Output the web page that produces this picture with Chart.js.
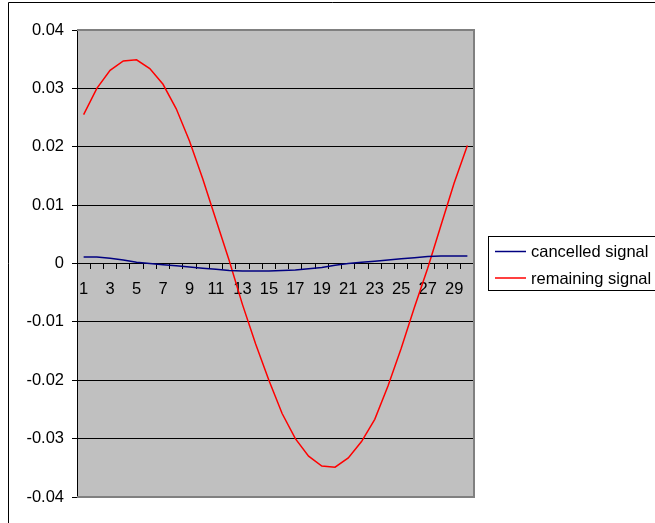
<!DOCTYPE html>
<html>
<head>
<meta charset="utf-8">
<style>
  html, body { margin: 0; padding: 0; background: #fff; }
  #wrap { width: 655px; height: 523px; position: relative; }
</style>
<script src="https://cdn.jsdelivr.net/npm/chart.js@4.4.1/dist/chart.umd.min.js"></script>
</head>
<body>
<div id="wrap"><canvas id="c" width="655" height="523"></canvas></div>
<script>
// Sample index 1..30
const categories = Array.from({ length: 30 }, (_, i) => String(i + 1));

const cancelledSignal = [
  0.0011, 0.0011, 0.0009, 0.0006, 0.0002, 0.0000, -0.0002, -0.0004, -0.0006, -0.0008,
  -0.0010, -0.0012, -0.0013, -0.0013, -0.0013, -0.0012, -0.0011, -0.0009, -0.0007, -0.0003,
  0.0000, 0.0002, 0.0004, 0.0006, 0.0008, 0.0010, 0.0012, 0.0013, 0.0013, 0.0013
];

const remainingSignal = [
  0.0255, 0.0300, 0.0331, 0.0347, 0.0349, 0.0334, 0.0307, 0.0265, 0.0210, 0.0145,
  0.0075, 0.0005, -0.0070, -0.0138, -0.0200, -0.0257, -0.0300, -0.0330, -0.0347, -0.0349,
  -0.0333, -0.0305, -0.0267, -0.0210, -0.0145, -0.0075, -0.0008, 0.0065, 0.0138, 0.0202
];

const yTicks = [0.04, 0.03, 0.02, 0.01, 0, -0.01, -0.02, -0.03, -0.04];

const FONT = "'Liberation Sans', Arial, sans-serif";
const FONT_SIZE = 16.5;
Chart.defaults.font.family = FONT;
Chart.defaults.font.size = FONT_SIZE;
Chart.defaults.color = '#000';

// Grey plot background and white page
const plotBackground = {
  id: 'plotBackground',
  beforeDraw(chart) {
    const { ctx, chartArea: a } = chart;
    ctx.save();
    ctx.fillStyle = '#fff';
    ctx.fillRect(0, 0, chart.width, chart.height);
    ctx.fillStyle = '#C0C0C0';
    ctx.fillRect(a.left, a.top, a.right - a.left, a.bottom - a.top);
    ctx.restore();
  },
  beforeDatasetsDraw(chart) {
    const { ctx, chartArea: a } = chart;
    ctx.save();
    ctx.strokeStyle = '#808080';
    ctx.lineWidth = 2;
    ctx.beginPath();
    ctx.moveTo(a.left, a.top);
    ctx.lineTo(a.right, a.top);
    ctx.lineTo(a.right, a.bottom);
    ctx.lineTo(a.left, a.bottom);
    ctx.stroke();
    ctx.restore();
  }
};

// Boxed legend on the right plus the outer frame
const boxedLegend = {
  id: 'boxedLegend',
  afterDraw(chart) {
    const { ctx } = chart;
    ctx.save();
    // outer frame
    ctx.strokeStyle = '#000';
    ctx.lineWidth = 1;
    ctx.beginPath();
    ctx.moveTo(8.5, chart.height + 5);
    ctx.lineTo(8.5, 2.5);
    ctx.lineTo(chart.width + 5, 2.5);
    ctx.stroke();

    const x = 488.5, y = 236.5, w = 170, h = 54;
    ctx.fillStyle = '#fff';
    ctx.fillRect(x, y, w, h);
    ctx.strokeStyle = '#000';
    ctx.strokeRect(x, y, w, h);

    ctx.font = FONT_SIZE + 'px ' + FONT;
    ctx.textBaseline = 'middle';
    ctx.textAlign = 'left';
    const rows = [251.5, 278];
    chart.data.datasets.forEach((ds, i) => {
      ctx.strokeStyle = ds.borderColor;
      ctx.lineWidth = 1.5;
      ctx.beginPath();
      ctx.moveTo(495, rows[i]);
      ctx.lineTo(526, rows[i]);
      ctx.stroke();
      ctx.fillStyle = '#000';
      ctx.fillText(ds.label, 531, rows[i] + 1);
    });
    ctx.restore();
  }
};

new Chart(document.getElementById('c'), {
  type: 'line',
  data: {
    labels: categories,
    datasets: [
      {
        label: 'cancelled signal',
        data: cancelledSignal,
        borderColor: '#000080',
        borderWidth: 1.5,
        pointRadius: 0,
        tension: 0,
        fill: false
      },
      {
        label: 'remaining signal',
        data: remainingSignal,
        borderColor: '#FF0000',
        borderWidth: 1.5,
        pointRadius: 0,
        tension: 0,
        fill: false
      }
    ]
  },
  options: {
    responsive: false,
    animation: false,
    layout: { padding: { left: 0, top: 30, right: 181, bottom: 26 } },
    plugins: {
      legend: { display: false },
      tooltip: { enabled: false }
    },
    scales: {
      x: {
        type: 'category',
        position: { y: 0 },
        offset: true,
        grid: {
          offset: true,
          drawOnChartArea: false,
          drawTicks: true,
          tickLength: 5,
          color: '#000',
          tickColor: '#000'
        },
        border: { display: true, color: '#000', width: 1 },
        ticks: {
          autoSkip: false,
          maxRotation: 0,
          minRotation: 0,
          padding: 11,
          color: '#000',
          callback: (v, i) => (i % 2 === 0 ? categories[i] : '')
        }
      },
      y: {
        min: -0.04,
        max: 0.04,
        afterBuildTicks: (scale) => {
          scale.ticks = yTicks.map(v => ({ value: v }));
        },
        afterFit: (scale) => { scale.width = 77; },
        grid: {
          color: (ctx) => (Math.abs(Math.abs(ctx.tick.value) - 0.04) < 1e-9 ? 'rgba(0,0,0,0)' : '#000'),
          tickColor: '#000',
          lineWidth: 1,
          tickLength: 5
        },
        border: { display: true, color: '#000', width: 1 },
        ticks: {
          padding: 8,
          color: '#000',
          callback: (v) => String(Math.round(v * 100) / 100)
        }
      }
    }
  },
  plugins: [plotBackground, boxedLegend]
});
</script>
</body>
</html>
